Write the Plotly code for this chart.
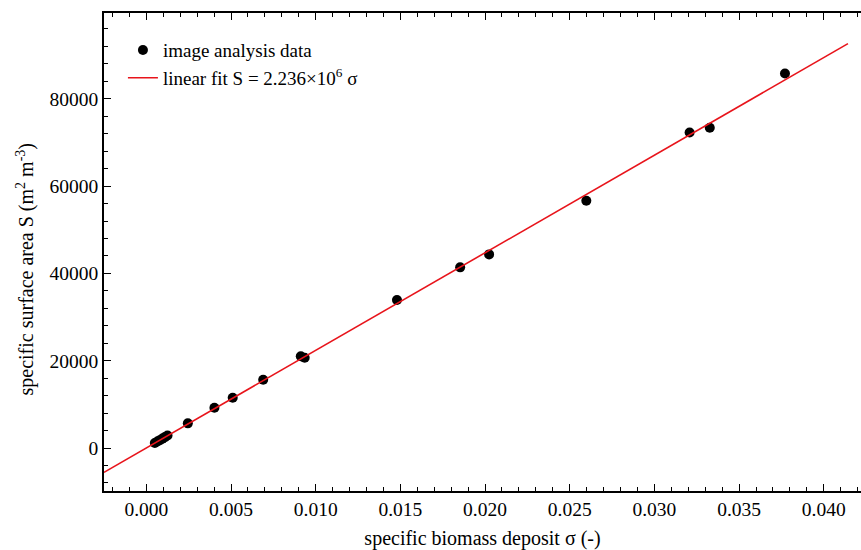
import plotly.graph_objects as go

# data
sigma = [0.00050, 0.00065, 0.00080, 0.00095, 0.00110, 0.00125,
         0.00245, 0.00402, 0.00510, 0.00690, 0.00912, 0.00935,
         0.01480, 0.01853, 0.02024, 0.02598, 0.03208, 0.03327, 0.03771]
S_data = [1150, 1500, 1800, 2150, 2500, 2850,
          5650, 9230, 11520, 15640, 21000, 20680,
          33890, 41380, 44350, 56630, 72290, 73350, 85800]
slope = 2.236e6
fit_x = [-0.0025, 0.04143]
fit_y = [slope * v for v in fit_x]

x_ticks = [0.000, 0.005, 0.010, 0.015, 0.020, 0.025, 0.030, 0.035, 0.040]
x_ticklabels = ["0.000", "0.005", "0.010", "0.015", "0.020", "0.025", "0.030", "0.035", "0.040"]
y_ticks = [0, 20000, 40000, 60000, 80000]
y_ticklabels = ["0", "20000", "40000", "60000", "80000"]

FONT = "Liberation Serif, Times New Roman, serif"

fig = go.Figure()
fig.add_trace(go.Scatter(
    x=sigma, y=S_data, mode="markers", name="image analysis data",
    marker=dict(color="black", size=10, line=dict(width=0)),
))
fig.add_trace(go.Scatter(
    x=fit_x, y=fit_y, mode="lines",
    name="linear fit S = 2.236×10<sup>6</sup> σ",
    line=dict(color="#e8141b", width=1.6),
))

axis_common = dict(
    showgrid=False, zeroline=False, showline=True, linecolor="black", linewidth=1.6,
    ticks="inside", ticklen=7, tickwidth=1.2, tickcolor="black",
    tickfont=dict(family=FONT, size=19.5, color="black"),
)

fig.update_layout(
    width=861, height=550,
    margin=dict(l=104, r=0, t=13, b=59),
    paper_bgcolor="white", plot_bgcolor="white",
    font=dict(family=FONT, size=19, color="black"),
    showlegend=True,
    legend=dict(x=0.025, y=0.962, xanchor="left", yanchor="top",
                bgcolor="rgba(0,0,0,0)", font=dict(family=FONT, size=19, color="black"),
                tracegroupgap=0),
    xaxis=dict(
        range=[-0.0025, 0.0422],
        tickvals=x_ticks, ticktext=x_ticklabels,
        mirror="ticks",
        minor=dict(ticks="inside", ticklen=4, tickwidth=1.2, tickcolor="black", dtick=0.001, tick0=0),
        title=dict(text="specific biomass deposit σ (-)", font=dict(family=FONT, size=20), standoff=12),
        **axis_common,
    ),
    yaxis=dict(
        range=[-9850, 99650],
        tickvals=y_ticks, ticktext=y_ticklabels,
        mirror=False,
        minor=dict(ticks="inside", ticklen=4, tickwidth=1.2, tickcolor="black", dtick=4000, tick0=0),
        **axis_common,
    ),
    annotations=[dict(
        text="specific surface area S (m<sup>2</sup> m<sup>-3</sup>)",
        xref="paper", yref="paper", x=-0.104, y=0.464,
        xanchor="center", yanchor="middle", textangle=-90, showarrow=False,
        font=dict(family=FONT, size=20, color="black"),
    )],
)

fig.write_html("out.html")
